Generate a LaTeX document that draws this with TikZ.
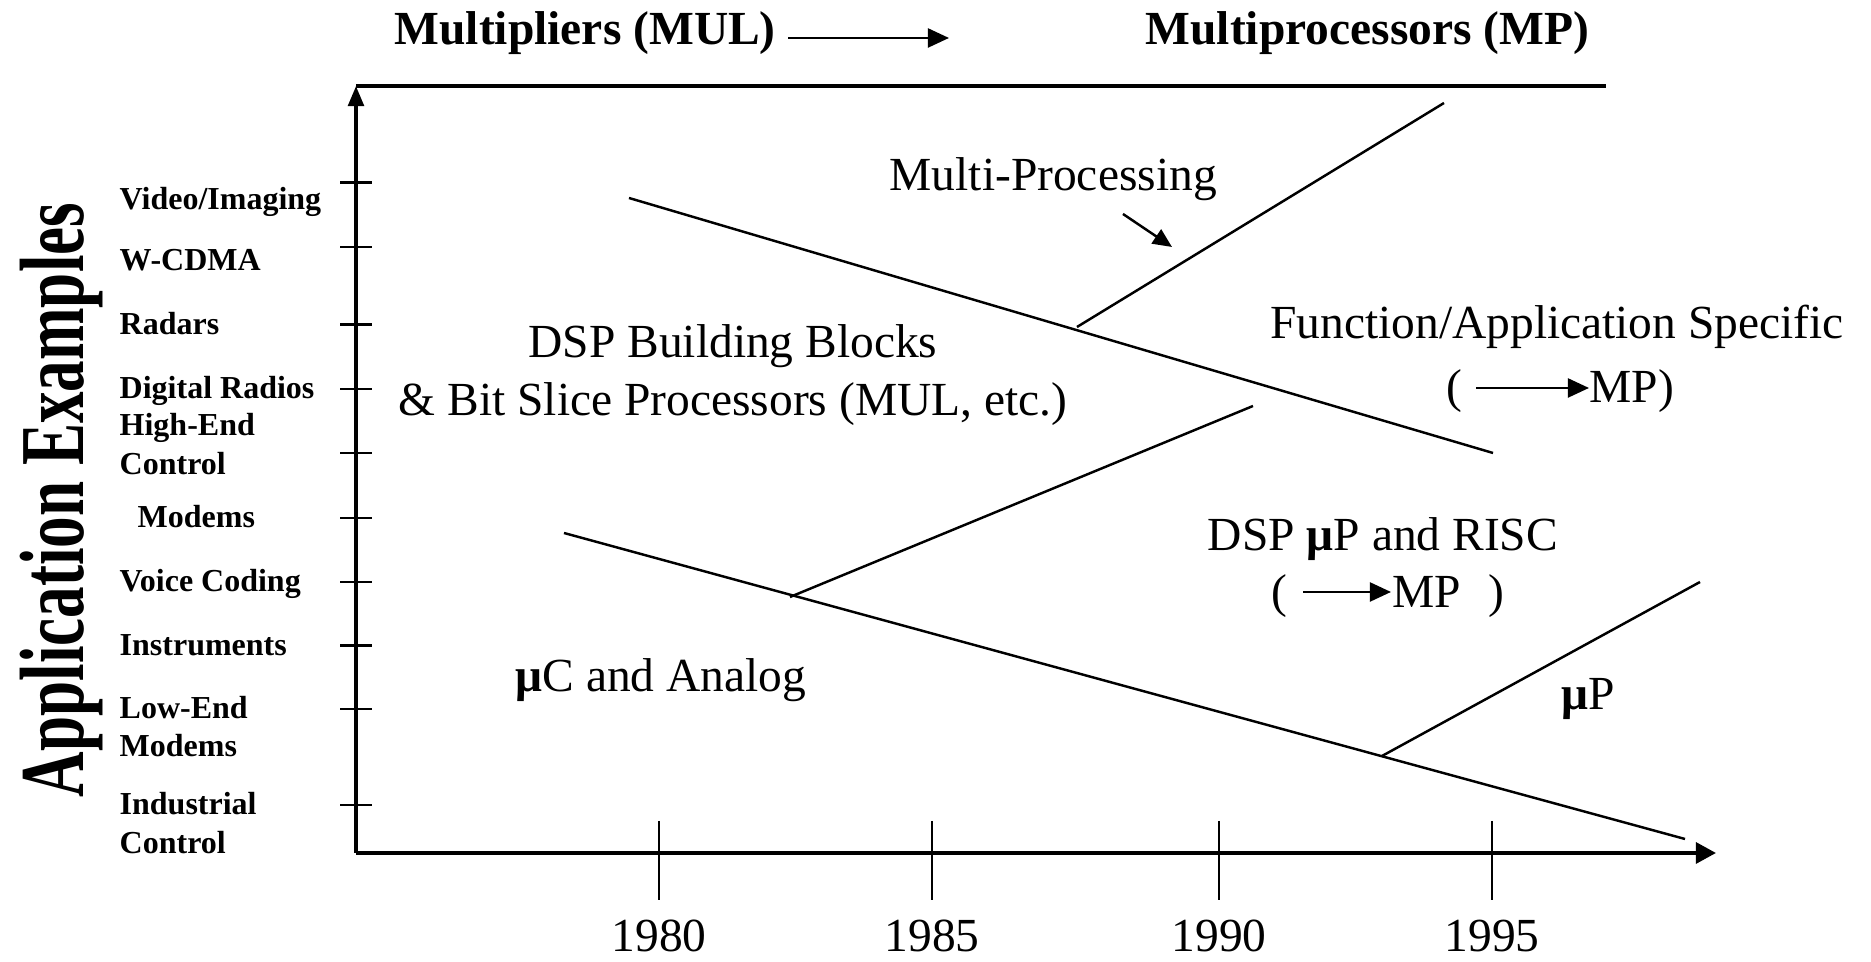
\documentclass[tikz,border=0pt]{standalone}
\usepackage{fontspec}
\setmainfont{Liberation Serif}
\usepackage{graphicx}
\usetikzlibrary{arrows.meta}

\newcommand{\mug}{{\bfseries μ}}

\begin{document}
\begin{tikzpicture}[x=0.01cm, y=-0.01cm,
  axis/.style={line width=1.1pt},
  trend/.style={line width=0.7pt},
  tickmark/.style={line width=0.7pt},
  lbl/.style={font=\fontsize{9.1}{10.8}\selectfont\bfseries, anchor=base west, inner sep=0},
  txt/.style={font=\fontsize{13.5}{16}\selectfont, inner sep=0},
  hdr/.style={font=\fontsize{13.5}{16}\selectfont\bfseries, anchor=base west, inner sep=0},
  yr/.style={font=\fontsize{13.5}{16}\selectfont, anchor=base, inner sep=0},
  bigtip/.style={-{Triangle[length=5.7pt,width=5.9pt]}},
  uptip/.style={-{Triangle[length=5.7pt,width=4.4pt]}},
  smalltip/.style={-{Triangle[length=5.4pt,width=4.8pt]}},
  inltip/.style={-{Triangle[length=6pt,width=5.4pt]}}]

\useasboundingbox (0,0) rectangle (1871,962);

% ---------- header ----------
\node[hdr] (mul) at (394,45) {Multipliers (MUL)};
\node[hdr] (mp) at (1145,45) {Multiprocessors (MP)};
\coordinate (ha) at (788,38);
\coordinate (hb) at (949,38);
\draw[inltip, line width=0.7pt] (ha) -- (hb);

% ---------- axes ----------
\coordinate (O) at (356,853);
\coordinate (ytop) at (356,86);
\coordinate (xend) at (1716,853);
\coordinate (topend) at (1606,86);
\draw[axis, uptip] (O) -- (ytop);
\draw[axis] (ytop) -- (topend);
\draw[axis, bigtip] (O) -- (xend);

% y-axis ticks
\foreach \t in {182.6,247,324.5,389,453,518,582,645.5,709,805}
  \draw[tickmark] (340,\t) -- (372,\t);

% x-axis ticks and years
\foreach \xx/\yy in {659/1980,932/1985,1219/1990,1492/1995}{
  \draw[tickmark] (\xx,821) -- (\xx,900);
  \node[yr] (y\yy) at (\xx,952) {\yy};
}

% ---------- axis title ----------
\node[font=\fontsize{26}{28}\selectfont\bfseries, rotate=90, inner sep=0] (apptitle) at (62,500)
  {\scalebox{0.69}[1]{Application Examples}};

% ---------- application labels ----------
\node[lbl] (l1) at (119,210) {Video/Imaging};
\node[lbl] (l2) at (119,271) {W-CDMA};
\node[lbl] (l3) at (119,335) {Radars};
\node[lbl] (l4) at (119,399) {Digital Radios};
\node[lbl] (l5a) at (119,436) {High-End};
\node[lbl] (l5b) at (119,475) {Control};
\node[lbl] (l6) at (137,528) {Modems};
\node[lbl] (l7) at (119,592) {Voice Coding};
\node[lbl] (l8) at (119,656) {Instruments};
\node[lbl] (l9a) at (119,719) {Low-End};
\node[lbl] (l9b) at (119,757) {Modems};
\node[lbl] (l10a) at (119,815) {Industrial};
\node[lbl] (l10b) at (119,854) {Control};

% ---------- trend lines ----------
\coordinate (a1) at (629,198);
\coordinate (a2) at (1493,453);
\coordinate (b1) at (1077,327);
\coordinate (b2) at (1444,103);
\coordinate (c1) at (564,533);
\coordinate (c2) at (1685,839);
\coordinate (d1) at (790,597);
\coordinate (d2) at (1253,406);
\coordinate (e1) at (1382,756);
\coordinate (e2) at (1700,582);
\draw[trend] (a1) -- (a2);
\draw[trend] (b1) -- (b2);
\draw[trend] (c1) -- (c2);
\draw[trend] (d1) -- (d2);
\draw[trend] (e1) -- (e2);

% ---------- region texts ----------
\node[txt, anchor=base west] (mproc) at (889,191) {Multi-Processing};
\coordinate (mpa) at (1123,214);
\coordinate (mpb) at (1172,247);
\draw[smalltip, line width=0.7pt] (mpa) -- (mpb);

\node[txt, anchor=base] (dspbb1) at (733,358) {DSP Building Blocks};
\node[txt, anchor=base] (dspbb2) at (733,416) {\& Bit Slice Processors (MUL, etc.)};

\node[txt, anchor=base] (fas) at (1557,339) {Function/Application Specific};
\node[txt, anchor=base west] (fasL) at (1446,403) {(};
\node[txt, anchor=base west] (fasR) at (1589,403) {MP)};
\coordinate (fa1) at (1476,388);
\coordinate (fa2) at (1589,388);
\draw[inltip, line width=0.7pt] (fa1) -- (fa2);

\node[txt, anchor=base] (risc) at (1383,551) {DSP \mug P and RISC};
\node[txt, anchor=base west] (riscL) at (1271,608) {(};
\node[txt, anchor=base west] (riscM) at (1392,608) {MP};
\node[txt, anchor=base west] (riscR) at (1488,608) {)};
\coordinate (ra1) at (1303,592);
\coordinate (ra2) at (1391,592);
\draw[inltip, line width=0.7pt] (ra1) -- (ra2);

\node[txt, anchor=base west] (muc) at (515,692) {\mug C and Analog};
\node[txt, anchor=base west] (mup) at (1561,710) {\mug P};

\end{tikzpicture}
\end{document}
